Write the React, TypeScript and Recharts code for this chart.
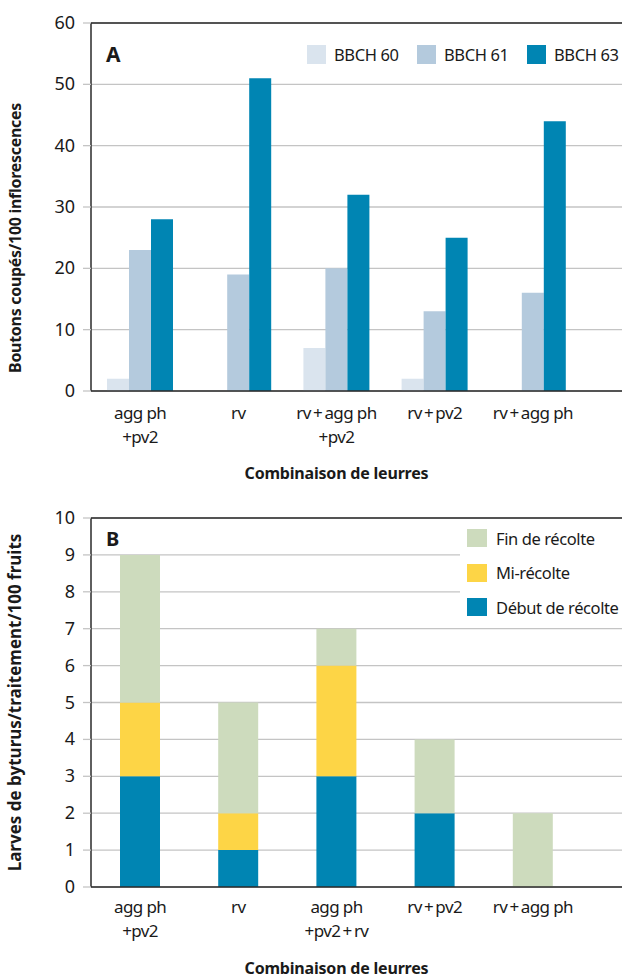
import React from 'react';
import { BarChart, Bar, XAxis, YAxis, CartesianGrid, ReferenceLine, Legend } from 'recharts';

const FONT = "'Noto Sans', 'DejaVu Sans Condensed', sans-serif";
const STRETCH = 'condensed';

// Chart A
const categoriesA = ['agg ph\n+pv2', 'rv', 'rv\u2009+\u2009agg ph\n+pv2', 'rv\u2009+\u2009pv2', 'rv\u2009+\u2009agg ph'];
const bbch60 = [2, 0, 7, 2, 0];
const bbch61 = [23, 19, 20, 13, 16];
const bbch63 = [28, 51, 32, 25, 44];
const ticksA = [0, 10, 20, 30, 40, 50, 60];

// Chart B
const categoriesB = ['agg ph\n+pv2', 'rv', 'agg ph\n+pv2\u2009+\u2009rv', 'rv\u2009+\u2009pv2', 'rv\u2009+\u2009agg ph'];
const debutRecolte = [3, 1, 3, 2, 0];
const miRecolte = [2, 1, 3, 0, 0];
const finRecolte = [4, 3, 1, 2, 2];
const ticksB = [0, 1, 2, 3, 4, 5, 6, 7, 8, 9, 10];
const legendOrderB = ['Fin de récolte', 'Mi-récolte', 'Début de récolte'];

const dataA = categoriesA.map((c, i) => ({ cat: c, b60: bbch60[i], b61: bbch61[i], b63: bbch63[i] }));
const dataB = categoriesB.map((c, i) => ({ cat: c, debut: debutRecolte[i], mi: miRecolte[i], fin: finRecolte[i] }));

const C60 = '#dae4ee';
const C61 = '#b4cadd';
const C63 = '#0085b3';
const CFIN = '#cddbbd';
const CMI = '#fdd546';
const CDEB = '#0085b3';
const GRID = '#c4c4c4';
const AXIS = '#2a2a2a';
const TEXT = '#1a1a1a';

const txtStyle: any = { fontStretch: STRETCH };

const makeTick = (dy1: number) => (props: any) => {
  const { x, y, payload } = props;
  const lines = String(payload.value).split('\n');
  return (
    <text x={x} y={y} textAnchor="middle" fontFamily={FONT} fontSize={17} letterSpacing={-0.6} fill={TEXT} style={txtStyle}>
      {lines.map((l, i) => (
        <tspan key={i} x={x} dy={i === 0 ? dy1 : 24}>{l}</tspan>
      ))}
    </text>
  );
};

const YTick = (props: any) => {
  const { x, y, payload } = props;
  return (
    <text x={x} y={y} dy={6} textAnchor="end" fontFamily={FONT} fontSize={18} fill={TEXT} style={txtStyle}>
      {payload.value}
    </text>
  );
};

const yTitle = (text: string, shift: number, size: number, ls: number) => (props: any) => {
  const vb = props.viewBox || {};
  const cy = vb.y + vb.height / 2 + shift;
  return (
    <text x={21} y={cy} transform={`rotate(-90 21 ${cy})`} textAnchor="middle" fontFamily={FONT} fontSize={size} letterSpacing={ls} fontWeight="bold" fill={TEXT} style={txtStyle}>
      {text}
    </text>
  );
};

const xTitle = (text: string, dy: number, padRight: number) => (props: any) => {
  const vb = props.viewBox || {};
  const cx = vb.x + (vb.width - padRight) / 2;
  return (
    <text x={cx} y={vb.y + dy} textAnchor="middle" fontFamily={FONT} fontSize={16} letterSpacing={-0.2} fontWeight="bold" fill={TEXT} style={txtStyle}>
      {text}
    </text>
  );
};

const LegendA = (props: any) => {
  const payload = props.payload || [];
  return (
    <div style={{ display: 'flex', alignItems: 'center', fontFamily: FONT, fontStretch: STRETCH, fontSize: 16.5, letterSpacing: -0.4, color: TEXT, whiteSpace: 'nowrap' }}>
      {payload.map((p: any, i: number) => (
        <div key={i} style={{ display: 'flex', alignItems: 'center', width: i < 2 ? 110 : 'auto', flexShrink: 0 }}>
          <div style={{ width: 19, height: 19, background: p.color, marginRight: 8, flexShrink: 0 }} />
          <span style={{ whiteSpace: 'nowrap' }}>{p.value}</span>
        </div>
      ))}
    </div>
  );
};

const LegendB = (props: any) => {
  const payload = props.payload || [];
  const items = legendOrderB.map((n) => payload.find((p: any) => p.value === n)).filter(Boolean);
  return (
    <div style={{ background: '#fff', width: 162, height: 100, paddingTop: 2, paddingLeft: 7, boxSizing: 'border-box', fontFamily: FONT, fontStretch: STRETCH, fontSize: 16.5, letterSpacing: -0.4, color: TEXT, whiteSpace: 'nowrap' }}>
      {items.map((p: any, i: number) => (
        <div key={i} style={{ display: 'flex', alignItems: 'center', height: 34.5 }}>
          <div style={{ width: 20, height: 18, background: p.color, marginRight: 9, flexShrink: 0 }} />
          <span style={{ whiteSpace: 'nowrap' }}>{p.value}</span>
        </div>
      ))}
    </div>
  );
};

export default function App() {
  return (
    <div style={{ position: 'absolute', left: 0, top: 0, width: 623, height: 978, background: '#fff' }}>
      <div style={{ position: 'absolute', left: 0, top: 0 }}>
        <BarChart width={623} height={490} data={dataA} margin={{ top: 23, right: 1, left: 0, bottom: 0 }} barGap={0} barSize={22}>
          <CartesianGrid vertical={false} stroke={GRID} strokeWidth={1.3} />
          <XAxis
            dataKey="cat"
            interval={0}
            height={99}
            tickLine={false}
            tickSize={0}
            tickMargin={0}
            axisLine={{ stroke: AXIS, strokeWidth: 1.5 }}
            padding={{ left: 0, right: 40 }}
            tick={makeTick(28)}
            label={{ content: xTitle('Combinaison de leurres', 88, 40) } as any}
          />
          <YAxis
            width={91}
            domain={[0, 60]}
            ticks={ticksA}
            interval={0}
            tickSize={8}
            tickMargin={8}
            tickLine={{ stroke: GRID, strokeWidth: 1.3 }}
            axisLine={{ stroke: AXIS, strokeWidth: 1.5 }}
            tick={<YTick />}
            label={{ content: yTitle('Boutons coupés/100 inflorescences', 31, 16, -0.3) } as any}
          />
          <ReferenceLine y={60} stroke={AXIS} strokeWidth={1.5} />
          <Legend
            layout="vertical"
            verticalAlign="middle"
            align="center"
            wrapperStyle={{ top: 43, left: 307, width: 'auto', height: 'auto' }}
            content={<LegendA />}
          />
          <Bar dataKey="b60" name="BBCH 60" fill={C60} isAnimationActive={false} />
          <Bar dataKey="b61" name="BBCH 61" fill={C61} isAnimationActive={false} />
          <Bar dataKey="b63" name="BBCH 63" fill={C63} isAnimationActive={false} />
          <text x={106} y={62} fontFamily={FONT} fontSize={21} fontWeight="bold" fill={TEXT} style={txtStyle}>A</text>
        </BarChart>
      </div>
      <div style={{ position: 'absolute', left: 0, top: 490 }}>
        <BarChart width={623} height={488} data={dataB} margin={{ top: 28, right: 1, left: 0, bottom: 0 }} barSize={40}>
          <CartesianGrid vertical={false} stroke={GRID} strokeWidth={1.3} />
          <XAxis
            dataKey="cat"
            interval={0}
            height={91}
            tickLine={false}
            tickSize={0}
            tickMargin={0}
            axisLine={{ stroke: AXIS, strokeWidth: 1.5 }}
            padding={{ left: 0, right: 40 }}
            tick={makeTick(26)}
            label={{ content: xTitle('Combinaison de leurres', 87, 40) } as any}
          />
          <YAxis
            width={91}
            domain={[0, 10]}
            ticks={ticksB}
            interval={0}
            tickSize={8}
            tickMargin={8}
            tickLine={{ stroke: GRID, strokeWidth: 1.3 }}
            axisLine={{ stroke: AXIS, strokeWidth: 1.5 }}
            tick={<YTick />}
            label={{ content: yTitle('Larves de byturus/traitement/100 fruits', 0, 17, 0) } as any}
          />
          <ReferenceLine y={10} stroke={AXIS} strokeWidth={1.5} />
          <Legend
            layout="vertical"
            verticalAlign="middle"
            align="center"
            wrapperStyle={{ top: 29, left: 460, width: 'auto', height: 'auto' }}
            content={<LegendB />}
          />
          <Bar dataKey="debut" name="Début de récolte" stackId="s" fill={CDEB} isAnimationActive={false} />
          <Bar dataKey="mi" name="Mi-récolte" stackId="s" fill={CMI} isAnimationActive={false} />
          <Bar dataKey="fin" name="Fin de récolte" stackId="s" fill={CFIN} isAnimationActive={false} />
          <text x={106} y={56} fontFamily={FONT} fontSize={20} fontWeight="bold" fill={TEXT} style={txtStyle}>B</text>
        </BarChart>
      </div>
    </div>
  );
}
